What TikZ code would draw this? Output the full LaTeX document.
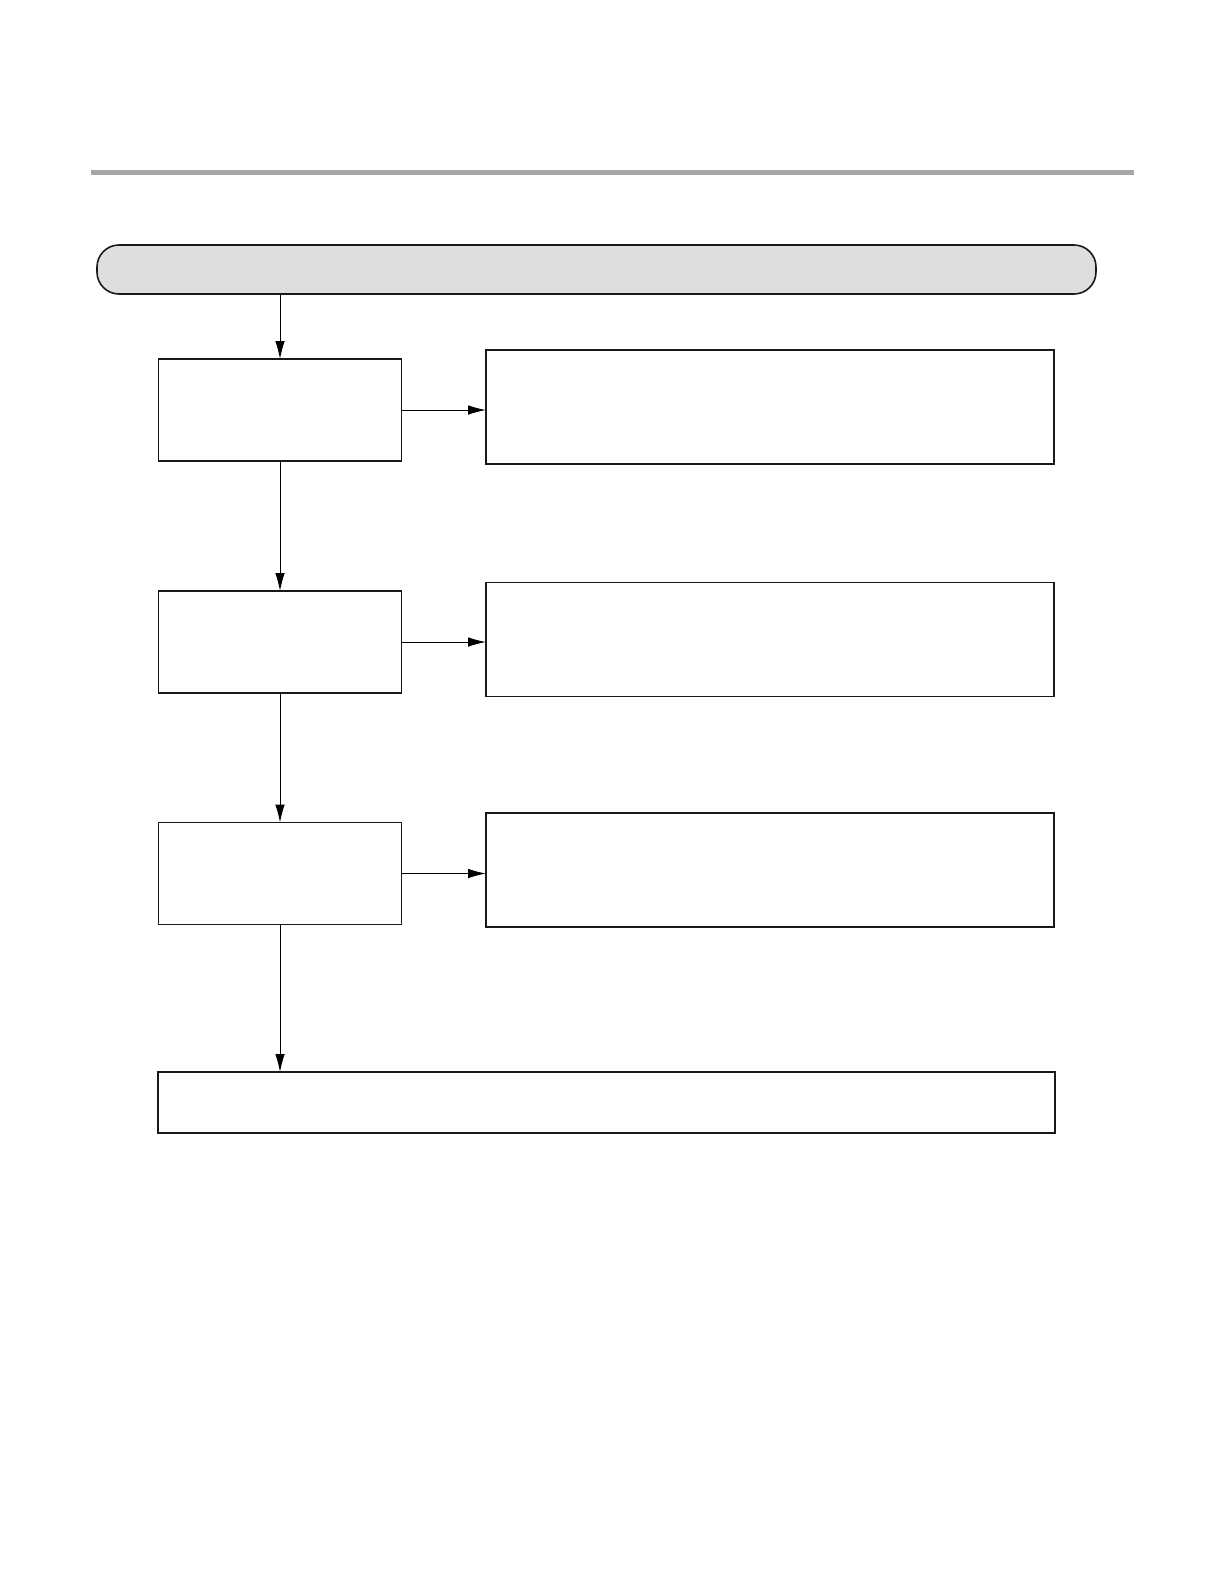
\documentclass[tikz,border=0pt]{standalone}
\usetikzlibrary{arrows.meta}
\definecolor{rulegray}{RGB}{166,166,166}
\definecolor{barfill}{RGB}{222,222,222}
\begin{document}
\begin{tikzpicture}[x=0.5pt,y=-0.5pt,
  box/.style={draw=black!90,line width=0.8pt,inner sep=0pt,outer sep=0pt},
  stepbox/.style={box,minimum width=121.5pt,minimum height=51pt},
  notebox/.style={box,minimum width=284pt,minimum height=57pt},
  arr/.style={line width=0.5pt,-{Latex[length=9pt,width=4.8pt]}}]
\useasboundingbox (0,0) rectangle (1225,1587);
\fill[rulegray] (91,170) rectangle (1134,175);
\node[box,fill=barfill,rounded corners=11pt,minimum width=499.5pt,minimum height=24.5pt] (bar) at (596.5,269.5) {};
\node[stepbox] (s1) at (280,410) {};
\node[stepbox] (s2) at (280,642) {};
\node[stepbox] (s3) at (280,873.5) {};
\node[notebox] (n1) at (770,407) {};
\node[notebox] (n2) at (770,639.5) {};
\node[notebox] (n3) at (770,870) {};
\node[box,minimum width=448.5pt,minimum height=30.5pt] (last) at (606.5,1102.5) {};
\draw[arr] (bar.south -| s1.north) -- (s1.north);
\draw[arr] (s1.south) -- (s2.north);
\draw[arr] (s2.south) -- (s3.north);
\draw[arr] (s3.south) -- (s3.south |- last.north);
\draw[arr] (s1.east) -- (s1.east -| n1.west);
\draw[arr] (s2.east) -- (s2.east -| n2.west);
\draw[arr] (s3.east) -- (s3.east -| n3.west);
\end{tikzpicture}
\end{document}
